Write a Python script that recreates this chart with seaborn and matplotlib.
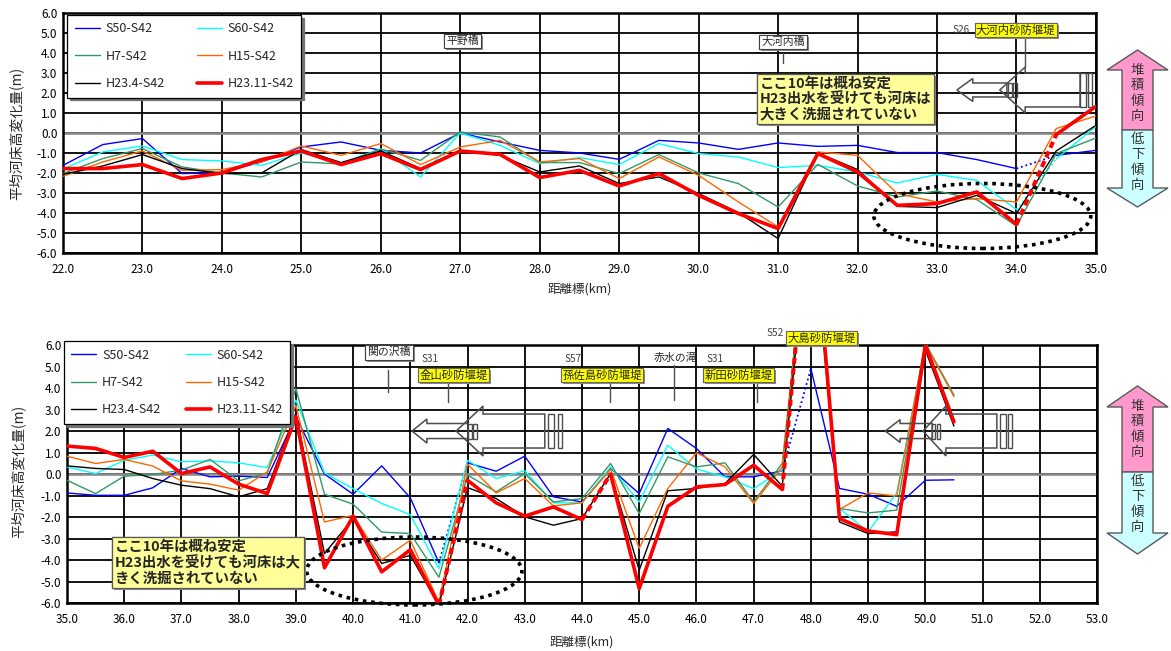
import matplotlib
matplotlib.use("Agg")
import matplotlib.pyplot as plt
import matplotlib.patheffects as pe
from matplotlib.patches import Polygon, Rectangle, Ellipse
from matplotlib.lines import Line2D
from matplotlib.ticker import MultipleLocator, FormatStrFormatter
import seaborn as sns

sns.set_style("white")
plt.rcParams["font.family"] = ["Noto Sans CJK JP", "DejaVu Sans"]
plt.rcParams["axes.unicode_minus"] = False

# ---------------------------------------------------------------- data
SERIES = ["S50-S42", "S60-S42", "H7-S42", "H15-S42", "H23.4-S42", "H23.11-S42"]

# upper reach 22.0 - 35.0 km
km_upper = [22.0, 22.5, 23.0, 23.5, 24.0, 24.5, 25.0, 25.5, 26.0, 26.5,
            27.0, 27.5, 28.0, 28.5, 29.0, 29.5, 30.0, 30.5, 31.0, 31.5,
            32.0, 32.5, 33.0, 33.5, 34.0, 34.5, 35.0]
upper_s50 = [-1.62, -0.58, -0.28, -2.03, -1.97, -1.45, -0.70, -0.45, -0.87, -1.00,
             0.00, -0.45, -0.87, -1.00, -1.32, -0.37, -0.50, -0.82, -0.50, -0.67,
             -0.62, -0.98, -0.98, -1.33, -1.78, -1.12, -0.87]
upper_s60 = [-1.80, -0.95, -0.65, -1.33, -1.40, -1.62, -1.00, -1.50, -0.80, -2.20,
             0.00, -0.62, -1.53, -1.23, -1.58, -0.53, -1.03, -1.20, -1.73, -1.62,
             -1.95, -2.50, -2.07, -2.37, -3.83, -1.30, 0.33]
upper_h7 = [-2.03, -1.28, -0.78, -1.70, -2.00, -2.20, -1.45, -1.55, -0.80, -1.37,
            0.05, -0.20, -1.48, -1.48, -2.03, -1.08, -2.00, -2.53, -3.70, -1.57,
            -2.65, -3.20, -2.90, -3.33, -4.65, -1.03, -0.25]
upper_h15 = [-2.17, -1.45, -0.90, -1.87, -1.83, -1.45, -0.65, -1.12, -0.53, -1.58,
             -0.70, -0.37, -1.45, -1.28, -2.28, -1.20, -2.12, -3.45, -4.70, -0.95,
             -1.12, -3.03, -3.45, -3.28, -3.45, 0.22, 0.85]
upper_h23_4 = [-2.07, -1.65, -1.08, -1.78, -2.03, -2.00, -0.83, -1.48, -0.90, -1.78,
               -0.87, -1.12, -1.95, -1.65, -2.53, -2.20, -3.03, -3.98, -5.28, -1.00,
               -1.83, -3.67, -3.73, -3.12, -4.03, -0.90, 0.38]
upper_h23_11 = [-1.78, -1.78, -1.58, -2.28, -2.00, -1.33, -0.90, -1.58, -1.03, -1.83,
                -0.90, -1.07, -2.23, -1.87, -2.65, -2.03, -3.12, -4.03, -4.78, -1.03,
                -1.95, -3.62, -3.53, -2.95, -4.57, -0.08, 1.33]

# lower reach 35.0 - 50.5 km
km_lower = [35.0, 35.5, 36.0, 36.5, 37.0, 37.5, 38.0, 38.5, 39.0, 39.5,
            40.0, 40.5, 41.0, 41.5, 42.0, 42.5, 43.0, 43.5, 44.0, 44.5,
            45.0, 45.5, 46.0, 46.5, 47.0, 47.5, 48.0, 48.5, 49.0, 49.5,
            50.0, 50.5]
lower_s50 = [-0.88, -0.99, -0.99, -0.64, 0.26, -0.13, -0.10, -0.16, 2.66, 0.00,
             -0.94, 0.38, -1.11, -4.13, 0.52, 0.13, 0.83, -1.06, -1.30, 0.26,
             -0.91, 2.12, 1.19, -0.13, -0.13, 0.15, 4.90, -0.67, -0.94, -1.50,
             -0.29, -0.27]
lower_s60 = [0.33, 0.02, 0.64, 0.88, 0.57, 0.61, 0.52, 0.30, 3.44, 0.05,
             -0.68, -1.37, -1.89, -4.40, 0.64, -0.21, 0.15, -1.34, -1.34, 0.33,
             -1.30, 1.34, 0.23, -0.13, -0.68, 0.20, 12.0, -1.60, -2.69, -0.88,
             6.10, 3.63]
lower_h7 = [-0.29, -0.91, -0.10, -0.02, 0.18, 0.68, -0.32, 0.05, 3.98, -0.94,
            -1.40, -2.70, -2.77, -4.80, -0.05, -0.83, 0.02, -1.30, -1.14, 0.49,
            -1.84, 0.80, 0.33, 0.52, -1.30, 0.50, 13.0, -1.60, -1.81, -1.68,
            6.08, 3.67]
lower_h15 = [0.83, 0.49, 0.68, 0.37, -0.32, -0.47, -0.75, 0.10, 3.20, -2.23,
             -1.92, -4.00, -3.08, -5.96, 0.46, -0.88, -0.21, -1.48, -1.34, 0.23,
             -3.46, -0.67, 0.99, 0.33, -1.37, 0.33, 12.5, -1.65, -0.88, -1.02,
             6.05, 3.60]
lower_h23_4 = [0.38, 0.26, 0.21, -0.21, -0.52, -0.68, -1.06, -0.68, 2.82, -3.70,
               -2.07, -4.16, -3.78, -6.10, -0.63, -1.14, -1.99, -2.38, -2.07, 0.02,
               -4.47, -0.78, -0.67, -0.44, 0.91, -0.57, 13.0, -2.23, -2.77, -2.69,
               5.77, 2.23]
lower_h23_11 = [1.30, 1.19, 0.77, 1.06, 0.02, 0.33, -0.47, -0.91, 2.66, -4.36,
                -1.96, -4.55, -3.52, -6.10, -0.29, -1.34, -1.96, -1.53, -2.12, 0.00,
                -5.33, -1.50, -0.60, -0.49, 0.41, -0.72, 13.5, -2.07, -2.65, -2.82,
                6.00, 2.43]

upper_table = dict(zip(SERIES, [upper_s50, upper_s60, upper_h7, upper_h15,
                                upper_h23_4, upper_h23_11]))
lower_table = dict(zip(SERIES, [lower_s50, lower_s60, lower_h7, lower_h15,
                                lower_h23_4, lower_h23_11]))

# sections across a check dam: drawn as broken lines (start km of the section)
upper_links = {"S50-S42": [34.0], "S60-S42": [34.0], "H23.11-S42": [34.0]}
lower_links = {"S50-S42": [41.5, 47.5], "H23.11-S42": [41.5, 44.0, 47.5]}

# ---------------------------------------------------------------- styles
COLORS = {"S50-S42": "#0000FF", "S60-S42": "#00FFFF", "H7-S42": "#339966",
          "H15-S42": "#FF6600", "H23.4-S42": "#000000", "H23.11-S42": "#FF0000"}
WIDTHS = {name: 1.0 for name in SERIES}
WIDTHS["H23.11-S42"] = 2.6
LINK_STYLE = {name: (0, (1, 1.6)) for name in SERIES}
LINK_STYLE["H23.11-S42"] = (0, (1.6, 1.0))

TICK_FS = 8.5


def draw_profiles(ax, km, table, links):
    for z, name in enumerate(SERIES):
        vals = table[name]
        color, lw = COLORS[name], WIDTHS[name]
        cuts = sorted(km.index(k) for k in links.get(name, []))
        pieces, begin = [], 0
        for c in cuts:
            pieces.append((begin, c))
            begin = c + 1
        pieces.append((begin, len(km) - 1))
        for a, b in pieces:
            if b > a:
                sns.lineplot(x=km[a:b + 1], y=vals[a:b + 1], ax=ax, color=color,
                             linewidth=lw, estimator=None, sort=False,
                             errorbar=None, legend=False, zorder=3 + z * 0.1)
        for c in cuts:
            sns.lineplot(x=km[c:c + 2], y=vals[c:c + 2], ax=ax, color=color,
                         linewidth=lw + 0.3, linestyle=LINK_STYLE[name],
                         estimator=None, sort=False, errorbar=None,
                         legend=False, zorder=3 + z * 0.1)


def setup_axes(ax, xmin, xmax):
    ax.set_xlim(xmin, xmax)
    ax.set_ylim(-6, 6)
    ax.xaxis.set_major_locator(MultipleLocator(1.0))
    ax.yaxis.set_major_locator(MultipleLocator(1.0))
    ax.xaxis.set_major_formatter(FormatStrFormatter("%.1f"))
    ax.yaxis.set_major_formatter(FormatStrFormatter("%.1f"))
    ax.grid(True, color="black", linewidth=1.3)
    ax.set_axisbelow(True)
    for sp in ax.spines.values():
        sp.set_visible(True)
        sp.set_color("black")
        sp.set_linewidth(1.8)
    ax.tick_params(axis="both", length=0, labelsize=TICK_FS, colors="black")
    ax.tick_params(axis="x", pad=7)
    ax.tick_params(axis="y", pad=4)
    ax.axhline(0, color="#8a8a8a", linewidth=1.9, zorder=2)
    ax.set_xlabel("距離標(km)", fontsize=9)
    ax.set_ylabel("平均河床高変化量(m)", fontsize=10)


def add_legend(ax, anchor, colspace):
    order = ["S50-S42", "H7-S42", "H23.4-S42", "S60-S42", "H15-S42", "H23.11-S42"]
    handles = [Line2D([], [], color=COLORS[n], linewidth=WIDTHS[n]) for n in order]
    leg = ax.legend(handles, order, loc="upper left", bbox_to_anchor=anchor,
                    ncol=2, fontsize=9, frameon=True, fancybox=False,
                    framealpha=1, edgecolor="black", handlelength=2.0,
                    handletextpad=0.45, labelspacing=1.15, columnspacing=colspace,
                    borderpad=0.6, borderaxespad=0.0,
                    shadow={"ox": 2, "oy": -2, "color": "0.45", "alpha": 1})
    leg.get_frame().set_linewidth(0.9)
    leg.set_zorder(10)


def shadow_box(t):
    t.get_bbox_patch().set_path_effects(
        [pe.withSimplePatchShadow(offset=(1.5, -1.5), shadow_rgbFace="0.55", alpha=1.0),
         pe.Normal()])


def bridge(ax, x, y, text):
    t = ax.text(x, y, text, ha="center", va="center", fontsize=7.8, zorder=8,
                bbox=dict(boxstyle="square,pad=0.2", fc="white", ec="0.25", lw=0.8))
    shadow_box(t)


def dam(ax, x, y, text, year, year_x, year_y):
    t = ax.text(x, y, text, ha="center", va="center", fontsize=8.2, zorder=8,
                clip_on=False,
                bbox=dict(boxstyle="square,pad=0.12", fc="#FFFF00", ec="0.4", lw=0.8))
    shadow_box(t)
    ax.text(year_x, year_y, year, ha="left", va="center", fontsize=7.2,
            color="0.25", zorder=8, clip_on=False)


def leader(ax, x, y0, y1):
    ax.plot([x, x], [y0, y1], color="0.3", linewidth=1.0, zorder=7)


def note(ax, x, y, lines):
    t = ax.text(x, y, "\n".join(lines), ha="left", va="top", fontsize=10.4,
                fontweight="bold", linespacing=1.12, zorder=9,
                bbox=dict(boxstyle="square,pad=0.2", fc="#FFFF99", ec="0.35", lw=0.9))
    shadow_box(t)


def flow_arrow(ax, tip, head, tail, yc, head_half, shaft_half, bars):
    pts = [(tip, yc), (head, yc + head_half), (head, yc + shaft_half),
           (tail, yc + shaft_half), (tail, yc - shaft_half),
           (head, yc - shaft_half), (head, yc - head_half)]
    ax.add_patch(Polygon(pts, closed=True, fill=False, ec="0.3", lw=1.1, zorder=6))
    for x0, x1 in bars:
        ax.add_patch(Rectangle((x0, yc - shaft_half), x1 - x0, 2 * shaft_half,
                               fill=False, ec="0.3", lw=1.0, zorder=6))


def scour_ring(ax, cx, cy, w, h):
    ax.add_patch(Ellipse((cx, cy), w, h, fill=False, ec="black", lw=2.6,
                         linestyle=(0, (1, 1.3)), zorder=7, clip_on=False))


# ---------------------------------------------------------------- figure
fig = plt.figure(figsize=(11.71, 6.51), dpi=100)
ax_up = fig.add_axes([0.0538, 0.6114, 0.8821, 0.3687])
ax_lo = fig.add_axes([0.0572, 0.0737, 0.8796, 0.3963])

# upper reach
setup_axes(ax_up, 22.0, 35.0)
draw_profiles(ax_up, km_upper, upper_table, upper_links)
ax_up.xaxis.set_label_coords(0.5, -0.125)
ax_up.yaxis.set_label_coords(-0.038, 0.5)
add_legend(ax_up, (0.004, 0.992), 2.6)

bridge(ax_up, 27.03, 4.6, "平野橋")
bridge(ax_up, 31.06, 4.55, "大河内橋")
leader(ax_up, 31.06, 4.0, 3.5)
dam(ax_up, 33.99, 5.15, "大河内砂防堰堤", "S26", 33.19, 5.15)
leader(ax_up, 34.11, 4.75, 3.3)
flow_arrow(ax_up, 33.25, 33.45, 33.88, 2.15, 0.575, 0.35,
           [(33.89, 33.94), (33.96, 34.01)])
flow_arrow(ax_up, 33.79, 34.11, 34.80, 2.15, 1.15, 0.85,
           [(34.80, 34.87), (34.90, 34.95)])
note(ax_up, 30.77, 2.82, ["ここ10年は概ね安定", "H23出水を受けても河床は",
                          "大きく洗掘されていない"])
scour_ring(ax_up, 33.57, -4.15, 2.73, 3.25)

# lower reach
setup_axes(ax_lo, 35.0, 53.0)
draw_profiles(ax_lo, km_lower, lower_table, lower_links)
ax_lo.xaxis.set_label_coords(0.5, -0.125)
ax_lo.yaxis.set_label_coords(-0.040, 0.51)
add_legend(ax_lo, (-0.003, 1.015), 1.95)

bridge(ax_lo, 40.63, 5.67, "関の沢橋")
leader(ax_lo, 40.61, 4.84, 3.81)
dam(ax_lo, 41.75, 4.6, "金山砂防堰堤", "S31", 41.19, 5.35)
leader(ax_lo, 41.66, 4.23, 3.35)
dam(ax_lo, 44.35, 4.6, "孫佐島砂防堰堤", "S57", 43.70, 5.35)
leader(ax_lo, 44.49, 4.23, 3.35)
ax_lo.text(45.63, 5.4, "赤水の滝", ha="center", va="center", fontsize=7.8, zorder=8)
leader(ax_lo, 45.61, 5.05, 3.44)
dam(ax_lo, 46.74, 4.6, "新田砂防堰堤", "S31", 46.17, 5.35)
leader(ax_lo, 47.06, 4.23, 3.35)
dam(ax_lo, 48.18, 6.33, "大島砂防堰堤", "S52", 47.22, 6.56)

flow_arrow(ax_lo, 41.03, 41.29, 42.01, 2.0, 0.56, 0.35,
           [(42.01, 42.08), (42.10, 42.17)])
flow_arrow(ax_lo, 41.80, 42.27, 43.35, 2.0, 1.16, 0.79,
           [(43.41, 43.51), (43.58, 43.65)])
flow_arrow(ax_lo, 49.30, 49.56, 50.12, 2.0, 0.53, 0.35,
           [(50.12, 50.17), (50.21, 50.26)])
flow_arrow(ax_lo, 49.96, 50.36, 51.25, 2.0, 1.16, 0.79,
           [(51.31, 51.41), (51.45, 51.52)])
note(ax_lo, 35.84, -3.07, ["ここ10年は概ね安定", "H23出水を受けても河床は大",
                           "きく洗掘されていない"])
scour_ring(ax_lo, 41.07, -4.51, 3.76, 3.16)

# deposition / degradation indicator arrows beside each panel (pixel space)
over = fig.add_axes([0, 0, 1, 1])
over.set_xlim(0, 1171)
over.set_ylim(651, 0)
over.axis("off")


def trend_arrow(top, head_top, mid, head_bot, bot, up_text_y, dn_text_y):
    cx, hw, sw = 1137.5, 30.5, 15.5
    up = [(cx, top), (cx + hw, head_top), (cx + sw, head_top), (cx + sw, mid),
          (cx - sw, mid), (cx - sw, head_top), (cx - hw, head_top)]
    dn = [(cx - sw, mid), (cx + sw, mid), (cx + sw, head_bot), (cx + hw, head_bot),
          (cx, bot), (cx - hw, head_bot), (cx - sw, head_bot)]
    over.add_patch(Polygon(up, closed=True, fc="#FF99CC", ec="0.35", lw=1.0))
    over.add_patch(Polygon(dn, closed=True, fc="#CCFFFF", ec="0.35", lw=1.0))
    over.text(cx, up_text_y, "堆\n積\n傾\n向", ha="center", va="center",
              fontsize=9.6, linespacing=1.12, color="0.2")
    over.text(cx, dn_text_y, "低\n下\n傾\n向", ha="center", va="center",
              fontsize=9.6, linespacing=1.12, color="0.2")


trend_arrow(50, 70, 130, 188, 207, 93, 162)
trend_arrow(386, 407, 472, 533, 554, 429, 504)

fig.savefig("out.png", dpi=100)
